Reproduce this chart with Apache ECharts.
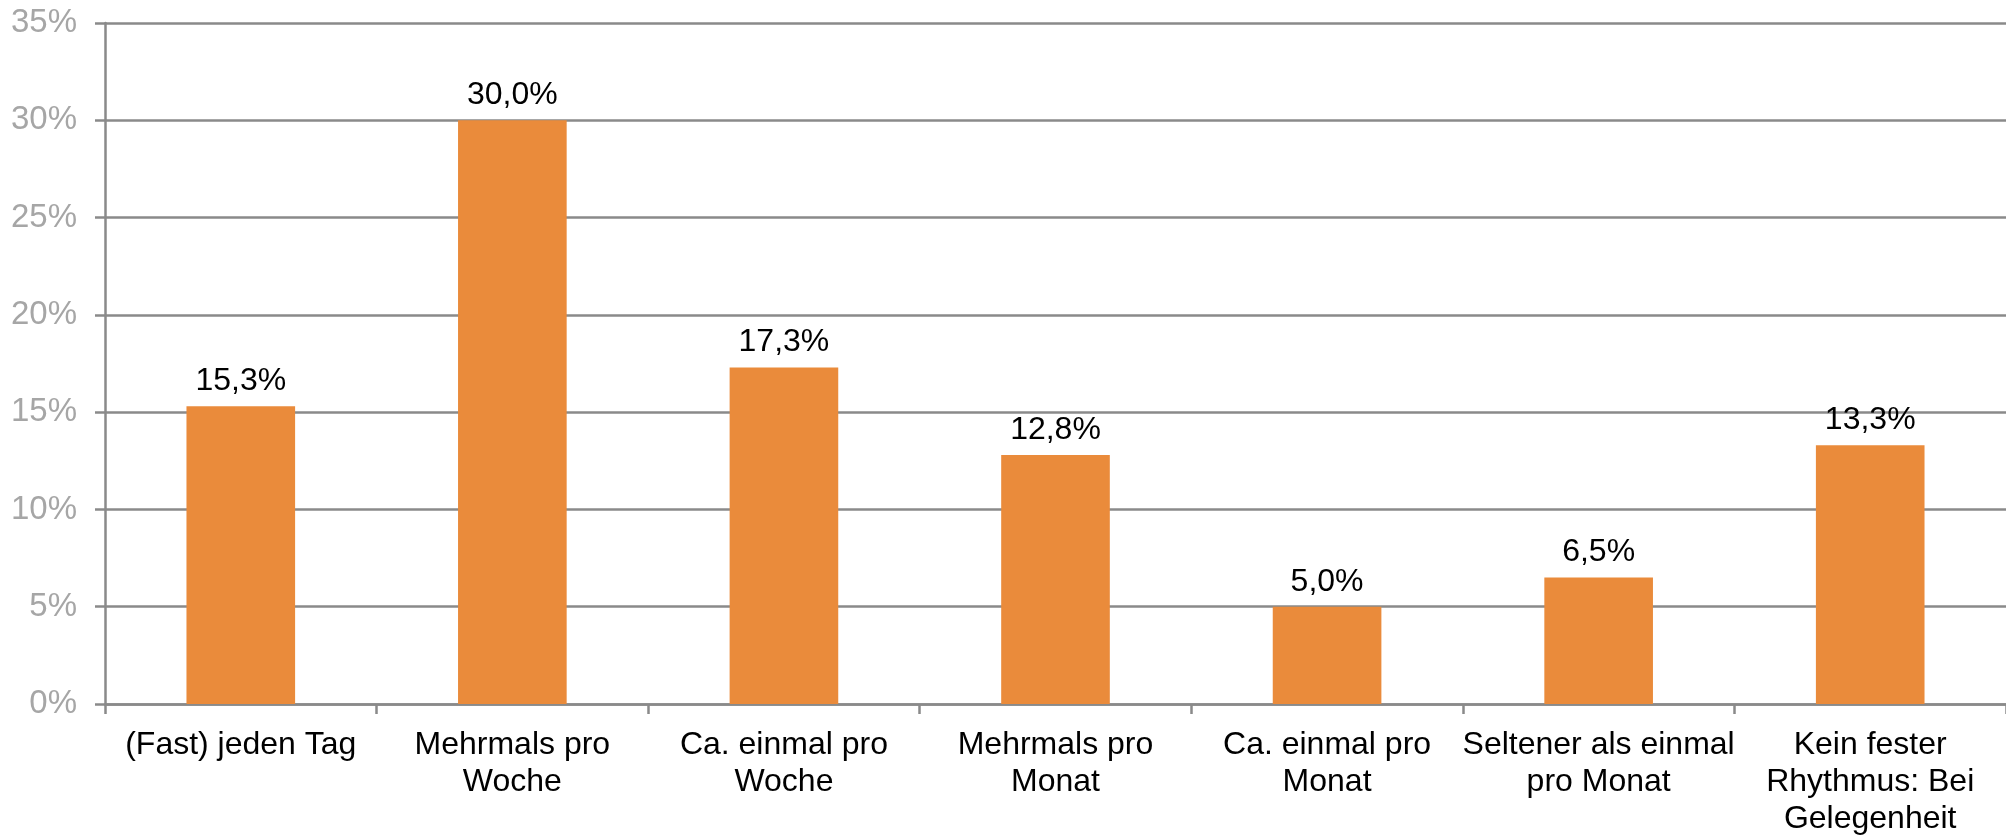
<!DOCTYPE html>
<html>
<head>
<meta charset="utf-8">
<script src="https://cdn.jsdelivr.net/npm/echarts@6/dist/echarts.min.js"></script>
<style>
  html, body { margin: 0; padding: 0; background: #fff; }
  #chart { width: 2006px; height: 838px; }
</style>
</head>
<body>
<div id="chart"></div>
<script>
// Kategorien (Häufigkeit) und Anteile in Prozent
var categories = [
  '(Fast) jeden Tag',
  'Mehrmals pro\nWoche',
  'Ca. einmal pro\nWoche',
  'Mehrmals pro\nMonat',
  'Ca. einmal pro\nMonat',
  'Seltener als einmal\npro Monat',
  'Kein fester\nRhythmus: Bei\nGelegenheit'
];
var shares = [15.3, 30.0, 17.3, 12.8, 5.0, 6.5, 13.3];

var chart = echarts.init(document.getElementById('chart'));
var font = 'Liberation Sans, Arial, sans-serif';
var grey = '#8a8a8a';

var option = {
  animation: false,
  grid: { left: 105, right: -8, top: 23, bottom: 129, containLabel: false },
  xAxis: {
    type: 'category',
    data: categories,
    axisLine: { lineStyle: { color: grey, width: 2.5 } },
    axisTick: { show: true, length: 10, lineStyle: { color: grey, width: 2.5 } },
    axisLabel: {
      interval: 0,
      margin: 23,
      color: '#000',
      fontFamily: font,
      fontSize: 32,
      lineHeight: 37
    }
  },
  yAxis: {
    type: 'value',
    min: 0,
    max: 35,
    interval: 5,
    axisLine: { show: true, lineStyle: { color: grey, width: 2.5 } },
    axisTick: { show: true, length: 10, lineStyle: { color: grey, width: 2.5 } },
    splitLine: { lineStyle: { color: grey, width: 2.5 } },
    axisLabel: {
      margin: 28,
      color: '#a6a6a6',
      fontFamily: font,
      fontSize: 33,
      formatter: function (v) { return v + '%'; }
    }
  },
  series: [{
    type: 'bar',
    data: shares,
    barWidth: '40%',
    itemStyle: { color: '#ea8b3b' },
    label: {
      show: true,
      position: 'top',
      distance: 9,
      color: '#000',
      fontFamily: font,
      fontSize: 32,
      formatter: function (p) { return p.value.toFixed(1).replace('.', ',') + '%'; }
    }
  }]
};
chart.setOption(option);
</script>
</body>
</html>
